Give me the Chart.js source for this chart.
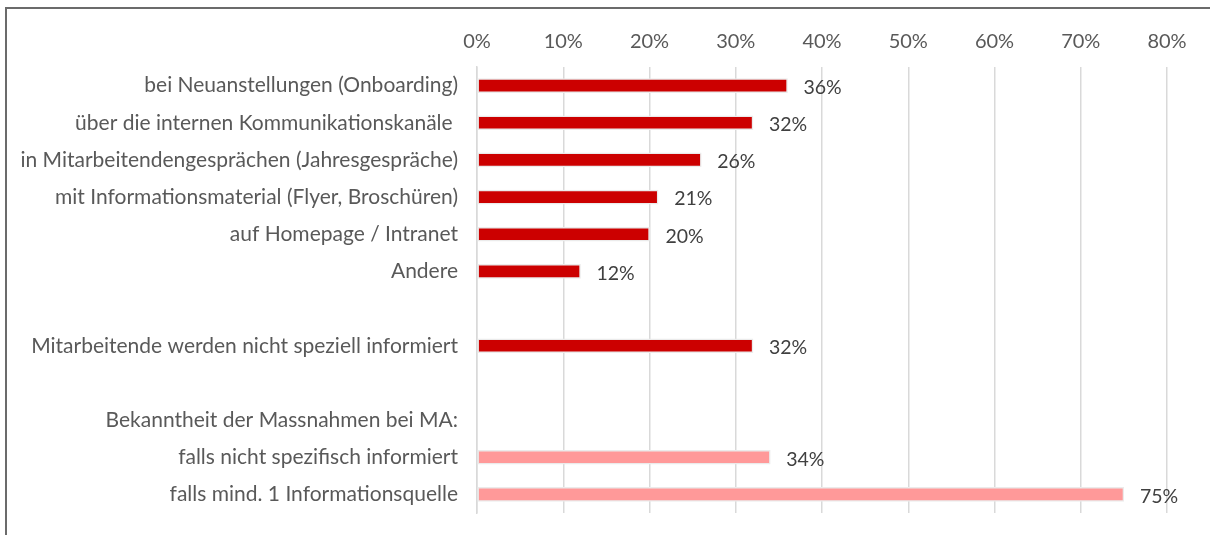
<!DOCTYPE html>
<html>
<head>
<meta charset="utf-8">
<script src="https://cdn.jsdelivr.net/npm/chart.js@4"></script>
<style>
  html, body { margin: 0; padding: 0; background: #fff; }
  #wrap { position: relative; width: 1210px; height: 535px; overflow: hidden; }
  #frame { position: absolute; left: 5px; top: 7px; width: 1300px; height: 600px;
           border-left: 2px solid #6b6b6b; border-top: 2px solid #6b6b6b; pointer-events: none; }
</style>
</head>
<body>
<div id="wrap">
  <canvas id="chart" width="1210" height="535"></canvas>
  <div id="frame"></div>
</div>
<script>
// categories (empty strings are spacer rows)
const categories = [
  "bei Neuanstellungen (Onboarding)",
  "über die internen Kommunikationskanäle ",
  "in Mitarbeitendengesprächen (Jahresgespräche)",
  "mit Informationsmaterial (Flyer, Broschüren)",
  "auf Homepage / Intranet",
  "Andere",
  "",
  "Mitarbeitende werden nicht speziell informiert",
  "",
  "Bekanntheit der Massnahmen bei MA:",
  "falls nicht spezifisch informiert",
  "falls mind. 1 Informationsquelle"
];
const values = [36, 32, 26, 21, 20, 12, null, 32, null, null, 34, 75];
// which group each row belongs to: 0 = channels, 1 = awareness
const groups = [0, 0, 0, 0, 0, 0, 0, 0, 0, 1, 1, 1];
const xTicks = [0, 10, 20, 30, 40, 50, 60, 70, 80];

const groupColors = ["#CC0000", "#FF9999"];
const font = "Lato, 'Open Sans', sans-serif";

// draws "36%" next to each bar
const valueLabels = {
  id: "valueLabels",
  afterDatasetsDraw(chart) {
    const ctx = chart.ctx;
    const meta = chart.getDatasetMeta(0);
    ctx.save();
    ctx.font = "19.5px " + font;
    ctx.fillStyle = "#404040";
    ctx.textAlign = "left";
    ctx.textBaseline = "middle";
    meta.data.forEach((bar, i) => {
      if (values[i] == null) return;
      ctx.fillText(values[i] + "%", bar.x + 16, bar.y + 2);
    });
    ctx.restore();
  }
};

new Chart(document.getElementById("chart"), {
  type: "bar",
  data: {
    labels: categories,
    datasets: [{
      data: values,
      backgroundColor: groups.map(g => groupColors[g]),
      borderColor: "#ebebeb",
      borderWidth: 1.5,
      borderSkipped: false,
      barThickness: 14
    }]
  },
  options: {
    indexAxis: "y",
    responsive: false,
    animation: false,
    layout: { padding: { left: 0, right: 43, top: 0, bottom: 22 } },
    plugins: { legend: { display: false }, tooltip: { enabled: false } },
    scales: {
      x: {
        position: "top",
        min: 0,
        max: 80,
        afterFit: s => { s.height = 67; },
        afterBuildTicks: s => { s.ticks = xTicks.map(v => ({ value: v })); },
        ticks: {
          padding: 13,
          color: "#595959",
          font: { family: font, size: 20 },
          callback: v => v + "%"
        },
        grid: { color: "#d9d9d9", lineWidth: 1.5, drawTicks: false },
        border: { display: false }
      },
      y: {
        afterFit: s => { s.width = 477; s.paddingTop = 0; s.paddingBottom = 0; },
        ticks: {
          padding: 19,
          color: "#595959",
          font: { family: font, size: 21 },
          autoSkip: false
        },
        grid: { display: false, drawTicks: false },
        border: { display: true, color: "#d9d9d9", width: 1.5 }
      }
    }
  },
  plugins: [valueLabels]
});
</script>
</body>
</html>
